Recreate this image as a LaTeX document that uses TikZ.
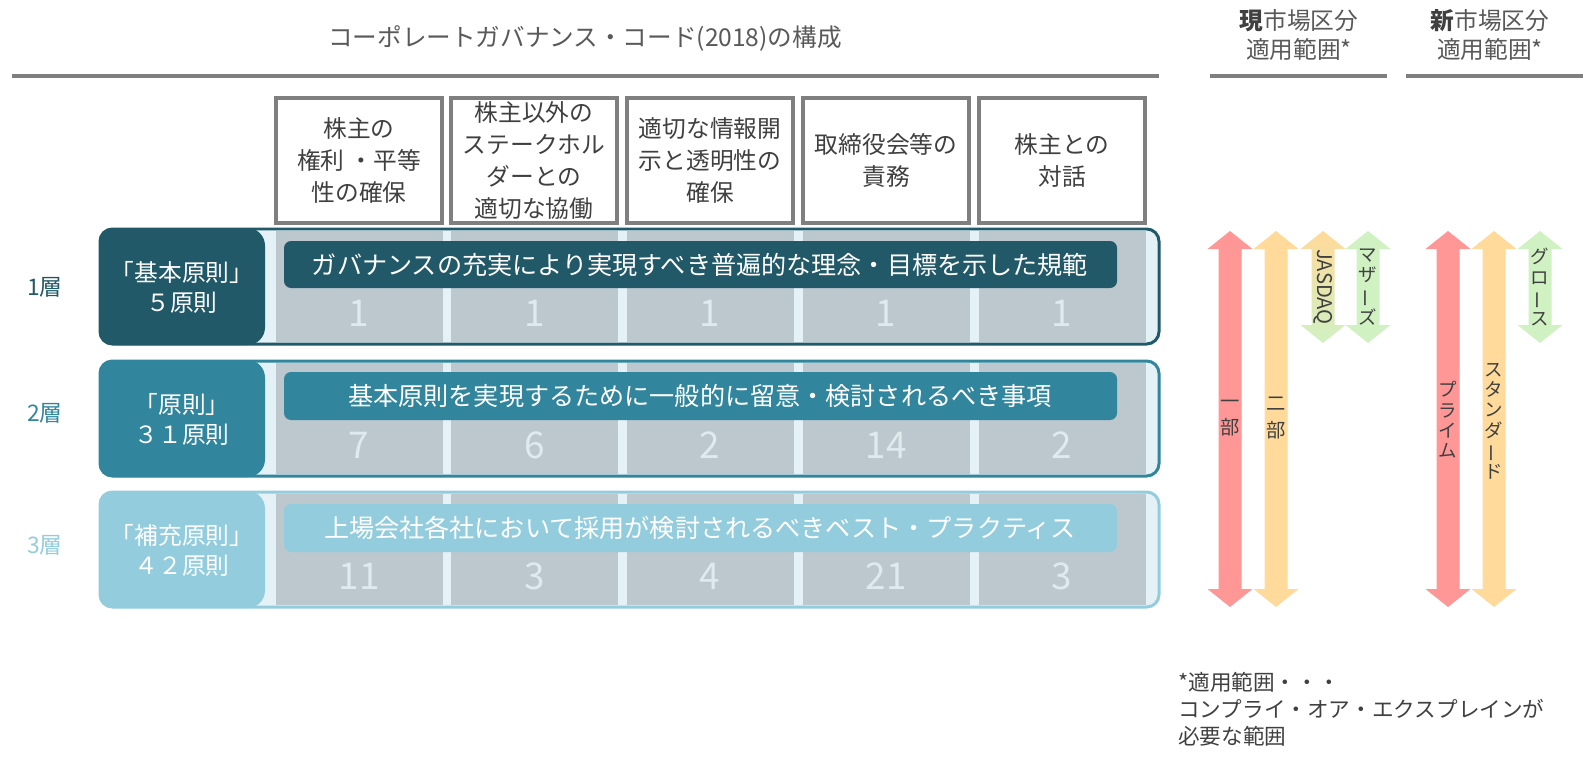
\documentclass[tikz,border=0pt]{standalone}
\usepackage{fontspec}
\setmainfont{Noto Sans CJK JP}
\usepackage{xcolor}
\usepackage{graphicx}
\usepackage{tikz}
\usetikzlibrary{positioning,calc}

\definecolor{layerA}{HTML}{215968}
\definecolor{layerB}{HTML}{31859C}
\definecolor{layerC}{HTML}{93CDDD}
\definecolor{bandfill}{HTML}{E4F1F6}
\definecolor{colgrey}{HTML}{BCC8CE}
\definecolor{numlight}{HTML}{DFEAEE}
\definecolor{linegrey}{HTML}{7F7F7F}
\definecolor{textgrey}{HTML}{404040}
\definecolor{headgrey}{HTML}{595959}
\definecolor{arrred}{HTML}{FF9797}
\definecolor{arrorange}{HTML}{FFDA9A}
\definecolor{arrgreen}{HTML}{D0F1C2}

\newcommand{\vbar}{\rotatebox[origin=c]{90}{ー}}

\begin{document}
\begin{tikzpicture}[x=0.02cm, y=-0.02cm,
    topbox/.style={draw=linegrey, line width=1.8pt, fill=white},
    boxtext/.style={text=textgrey, align=center, font=\fontsize{13.5}{18.2}\selectfont},
    bantext/.style={text=white, font=\fontsize{14.3}{16}\selectfont},
    labtext/.style={text=white, align=center, font=\fontsize{13.5}{17}\selectfont},
    numtext/.style={text=numlight, font=\fontsize{21}{24}\selectfont},
    layertext/.style={font=\fontsize{13}{16}\selectfont},
    arrtext/.style={text=textgrey, align=center, font=\fontsize{10.5}{11.6}\selectfont},
    hline/.style={draw=linegrey, line width=1.8pt}]
    \useasboundingbox (0,0) rectangle (1585,761);

    % Title
    \node[text=headgrey, font=\fontsize{14}{16}\selectfont] (title) at (585,38) {コーポレートガバナンス・コード(2018)の構成};
    \draw[hline] (12,76) -- (1159,76);

    % Market headers
    \node[text=headgrey, align=center, font=\fontsize{13.5}{17}\selectfont] (curhead) at (1299,35) {{\bfseries\color{textgrey}現}市場区分\\適用範囲*};
    \draw[hline] (1210,76) -- (1387,76);
    \node[text=headgrey, align=center, font=\fontsize{13.5}{17}\selectfont] (newhead) at (1490,35) {{\bfseries\color{textgrey}新}市場区分\\適用範囲*};
    \draw[hline] (1406,76) -- (1583,76);

    % Principle boxes
    \draw[topbox] (276,98) rectangle (442,223); \node[boxtext] (prin1) at (359,160.5) {株主の\\権利 ・平等\\性の確保};
    \draw[topbox] (451,98) rectangle (617,223); \node[boxtext] (prin2) at (534,160.5) {株主以外の\\ステークホル\\ダーとの\\適切な協働};
    \draw[topbox] (627,98) rectangle (793,223); \node[boxtext] (prin3) at (710,160.5) {適切な情報開\\示と透明性の\\確保};
    \draw[topbox] (803,98) rectangle (969,223); \node[boxtext] (prin4) at (886,160.5) {取締役会等の\\責務};
    \draw[topbox] (979,98) rectangle (1145,223); \node[boxtext] (prin5) at (1062,160.5) {株主との\\対話};

    % Layer 1
    \draw[draw=layerA, line width=1.7pt, fill=bandfill, rounded corners=7pt] (100,229) rectangle (1159,344);
    \foreach \x in {276,451,627,803,979} \fill[colgrey] (\x,231) rectangle ++(167,111);
    \fill[layerA, rounded corners=10pt] (99,228) rectangle (265,345);
    \node[labtext] (lab1) at (182,287) {「基本原則」\\５原則};
    \fill[layerA, rounded corners=4pt] (284,241) rectangle (1117,288);
    \node[bantext] (ban1) at (700,264.5) {ガバナンスの充実により実現すべき普遍的な理念・目標を示した規範};
    \foreach \x/\n [count=\i] in {359/1,535/1,710/1,886/1,1062/1} \node[numtext] (numA\i) at (\x,313) {\n};
    \node[layertext, text=layerA] (layer1) at (45,287) {1層};

    % Layer 2
    \draw[draw=layerB, line width=1.7pt, fill=bandfill, rounded corners=7pt] (100,361) rectangle (1159,476);
    \foreach \x in {276,451,627,803,979} \fill[colgrey] (\x,363) rectangle ++(167,111);
    \fill[layerB, rounded corners=10pt] (99,360) rectangle (265,477);
    \node[labtext] (lab2) at (182,419) {「原則」\\３１原則};
    \fill[layerB, rounded corners=4pt] (284,372) rectangle (1117,420);
    \node[bantext] (ban2) at (700,396) {基本原則を実現するために一般的に留意・検討されるべき事項};
    \foreach \x/\n [count=\i] in {359/7,535/6,710/2,886/14,1062/2} \node[numtext] (numB\i) at (\x,445) {\n};
    \node[layertext, text=layerB] (layer2) at (45,413) {2層};

    % Layer 3
    \draw[draw=layerC, line width=1.7pt, fill=bandfill, rounded corners=7pt] (100,492) rectangle (1159,607);
    \foreach \x in {276,451,627,803,979} \fill[colgrey] (\x,494) rectangle ++(167,111);
    \fill[layerC, rounded corners=10pt] (99,491) rectangle (265,608);
    \node[labtext] (lab3) at (182,550) {「補充原則」\\４２原則};
    \fill[layerC, rounded corners=4pt] (284,504) rectangle (1117,552);
    \node[bantext] (ban3) at (700,528) {上場会社各社において採用が検討されるべきベスト・プラクティス};
    \foreach \x/\n [count=\i] in {359/11,535/3,710/4,886/21,1062/3} \node[numtext] (numC\i) at (\x,576) {\n};
    \node[layertext, text=layerC] (layer3) at (45,545) {3層};

    % Market arrows
    \foreach \cx/\yb/\col in {1230/607/arrred, 1276/607/arrorange, 1368/343/arrgreen, 1448/607/arrred, 1494/607/arrorange, 1540/343/arrgreen}
      \fill[\col] (\cx,231) -- ++(22.5,18) -- ++(-11,0) -- (\cx+11.5,\yb-18) -- ++(11,0) -- (\cx,\yb) -- ++(-22.5,-18) -- ++(11,0) -- (\cx-11.5,249) -- ++(-11,0) -- cycle;
    \shade[top color=arrorange, bottom color=arrgreen] (1323,231) -- ++(22.5,18) -- ++(-11,0) -- (1334.5,325) -- ++(11,0) -- (1323,343) -- ++(-22.5,-18) -- ++(11,0) -- (1311.5,249) -- ++(-11,0) -- cycle;
    \node[arrtext, font=\fontsize{11}{15}\selectfont] (ichibu) at (1230,418) {一\\部};
    \node[arrtext, font=\fontsize{11}{15}\selectfont] (nibu) at (1276,418) {二\\部};
    \node[arrtext, font=\fontsize{11.5}{13}\selectfont, rotate=-90] (jasdaq) at (1323,287) {JASDAQ};
    \node[arrtext] (mothers) at (1368,287) {マ\\ザ\\\vbar\\ズ};
    \node[arrtext] (prime) at (1448,420) {プ\\ラ\\イ\\ム};
    \node[arrtext] (standard) at (1494,421) {ス\\タ\\ン\\ダ\\\vbar\\ド};
    \node[arrtext] (growth) at (1540,287) {グ\\ロ\\\vbar\\ス};

    % Note
    \node[anchor=west, align=left, inner sep=0, text=textgrey, font=\fontsize{12.3}{15.4}\selectfont] (note) at (1178,709) {*適用範囲・・・\\コンプライ・オア・エクスプレインが\\必要な範囲};
\end{tikzpicture}
\end{document}
